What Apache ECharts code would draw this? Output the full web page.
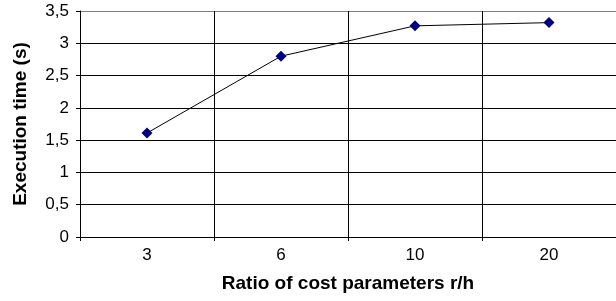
<!DOCTYPE html>
<html lang="en">
<head>
    <meta charset="UTF-8">
    <title>Execution time</title>
    <script src="https://cdn.jsdelivr.net/npm/echarts@6/dist/echarts.min.js"></script>
</head>
<body style="margin: 0">
<div id="chart" style="width: 616px; height: 301px;"></div>

<script type="text/javascript">
    // data
    var ratios = ['3', '6', '10', '20'];
    var execTimes = [1.61, 2.8, 3.27, 3.32];

    var chart = echarts.init(document.getElementById('chart'));

    var font = 'Liberation Sans, Arial, sans-serif';

    var option = {
        animation: false,
        backgroundColor: '#fff',
        grid: {
            left: 80,
            right: 0,
            top: 11,
            bottom: 64
        },
        xAxis: {
            type: 'category',
            data: ratios,
            boundaryGap: true,
            name: 'Ratio of cost parameters r/h',
            nameLocation: 'middle',
            nameGap: 37,
            nameTextStyle: {
                fontFamily: font,
                fontSize: 19,
                fontWeight: 'bold',
                color: '#000'
            },
            axisLine: {lineStyle: {color: '#000', width: 1}},
            axisTick: {show: true, length: 4, lineStyle: {color: '#000'}},
            axisLabel: {
                margin: 10,
                fontFamily: font,
                fontSize: 17,
                color: '#000'
            },
            splitLine: {show: true, lineStyle: {color: '#000', width: 1}}
        },
        yAxis: {
            type: 'value',
            min: 0,
            max: 3.5,
            interval: 0.5,
            name: 'Execution time (s)',
            nameLocation: 'middle',
            nameGap: 50,
            nameTextStyle: {
                fontFamily: font,
                fontSize: 19,
                fontWeight: 'bold',
                color: '#000'
            },
            axisLine: {show: true, lineStyle: {color: '#000', width: 1}},
            axisTick: {show: true, length: 4, lineStyle: {color: '#000'}},
            axisLabel: {
                margin: 11,
                fontFamily: font,
                fontSize: 17,
                color: '#000',
                formatter: function (v) {
                    return String(v).replace('.', ',');
                }
            },
            splitLine: {
                show: true,
                lineStyle: {
                    color: ['#000', '#000', '#000', '#000', '#000', '#000', '#000', '#808080'],
                    width: 1
                }
            }
        },
        series: [
            {
                type: 'line',
                data: execTimes,
                symbol: 'diamond',
                symbolSize: 11,
                lineStyle: {color: '#000', width: 1},
                itemStyle: {color: '#000080', borderWidth: 0}
            }
        ]
    };

    chart.setOption(option);
</script>
</body>
</html>
